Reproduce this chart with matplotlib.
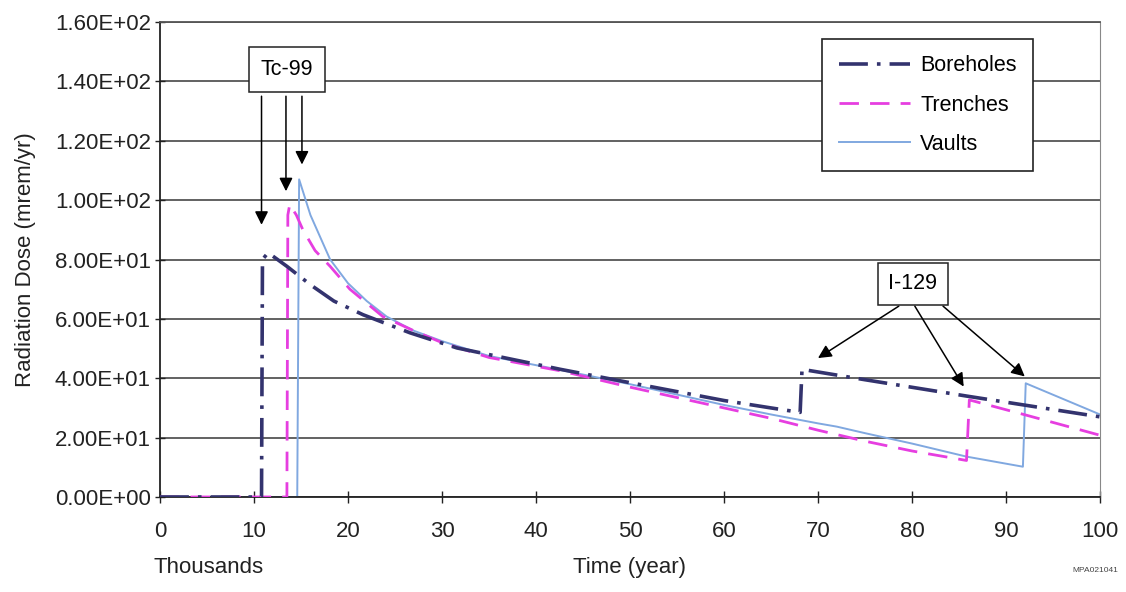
import matplotlib
matplotlib.use('Agg')
import matplotlib.pyplot as plt
from matplotlib.ticker import FuncFormatter, MultipleLocator

plt.rcParams['font.family'] = ['Liberation Sans', 'DejaVu Sans']

# time in thousands of years, dose in mrem/yr
bore_t = [0, 10.8, 10.9, 11.5, 13.5, 16, 18.5, 21.6, 26.6, 31.6, 42.6, 50, 55, 60, 65, 68.1, 68.3, 75, 85.8, 100]
bore_v = [0, 0, 80, 82.3, 77.7, 71.5, 66, 61.4, 55.3, 50.2, 43, 38.5, 35.5, 32.5, 30, 28.5, 43, 39.5, 34, 27]

trench_t = [0, 13.5, 13.6, 13.8, 14.5, 15.2, 16.5, 18.1, 20.2, 23.7, 27, 30, 35, 42.6, 50, 55, 60, 65, 70, 75, 80, 85.8, 86.1, 92, 100]
trench_v = [0, 0, 95, 98.5, 95, 90, 83, 77.7, 70, 60.8, 56, 52, 47, 42.5, 37, 33.5, 30, 26.5, 22.5, 18.8, 15.5, 12.3, 32.7, 27.7, 20.8]

vault_t = [0, 14.6, 14.8, 16, 18.1, 20, 22, 24.1, 27, 30, 35, 42.6, 50, 55, 60, 65, 70, 72, 75, 80, 85.8, 91.8, 92.1, 100]
vault_v = [0, 0, 107, 95, 80, 72, 66, 60.8, 56, 52.5, 47.5, 42.8, 38, 34.5, 31, 27.8, 24.8, 23.7, 21.5, 18, 13.6, 10.2, 38.3, 27.8]

# annotation arrow targets (t, dose)
tc99_tips = [(10.8, 91.7), (13.4, 103), (15.1, 112)]
tc99_tails = [(10.8, 135), (13.4, 135), (15.1, 135)]
i129_tips = [(70.0, 46.8), (85.5, 37.2), (92.0, 40.6)]
i129_tails = [(78.6, 64.3), (80.3, 64.3), (83.3, 64.3)]

fig = plt.figure(figsize=(11.26, 5.92), dpi=100)
ax = fig.add_axes([0.1421, 0.1605, 0.8348, 0.8023])

ax.plot(bore_t, bore_v, color='#33336e', lw=2.6, dashes=(8, 2.5, 1, 2.5), label='Boreholes', zorder=4)
ax.plot(trench_t, trench_v, color='#e63ee0', lw=2.0, dashes=(7, 4), label='Trenches', zorder=3)
ax.plot(vault_t, vault_v, color='#80a8e0', lw=1.4, label='Vaults', zorder=2)

ax.set_xlim(0, 100)
ax.set_ylim(0, 160)
ax.xaxis.set_major_locator(MultipleLocator(10))
ax.yaxis.set_major_locator(MultipleLocator(20))
ax.yaxis.set_major_formatter(FuncFormatter(lambda v, p: '%.2E' % v))
ax.grid(axis='y', color='#555555', lw=1.3)
ax.set_axisbelow(True)

for s in ['left', 'bottom']:
  ax.spines[s].set_color('#222222')
  ax.spines[s].set_linewidth(1.3)
ax.spines['right'].set_color('#888888')
ax.spines['top'].set_color('#555555')
ax.spines['top'].set_linewidth(1.3)

ax.tick_params(axis='x', direction='inout', length=9, width=1, pad=13, labelsize=16, colors='#222222')
ax.tick_params(axis='y', direction='inout', length=7, width=1, pad=3, labelsize=16, colors='#222222')

ax.set_ylabel('Radiation Dose (mrem/yr)', fontsize=16, color='#222222', labelpad=14)
fig.text(0.5595, 0.023, 'Time (year)', ha='center', va='bottom', fontsize=16, color='#222222')
fig.text(0.136, 0.023, 'Thousands', ha='left', va='bottom', fontsize=16, color='#222222')
fig.text(0.993, 0.03, 'MPA021041', ha='right', va='bottom', fontsize=6, color='#444444')

leg = ax.legend(loc='upper right', bbox_to_anchor=(0.9287, 0.964), borderaxespad=0, fontsize=15.5,
                frameon=True, fancybox=False, edgecolor='#222222', framealpha=1,
                handlelength=3.3, labelspacing=0.85, borderpad=0.75, handletextpad=0.5)
leg.get_frame().set_linewidth(1.2)

arrow = dict(arrowstyle='-|>', color='black', lw=1.1, mutation_scale=20, shrinkA=0, shrinkB=0)
box = dict(boxstyle='square,pad=0.55', fc='white', ec='#222222', lw=1.1)
for tail, tip in zip(tc99_tails, tc99_tips):
  ax.annotate('', xy=tip, xytext=tail, arrowprops=arrow, zorder=6)
ax.text(13.5, 144, 'Tc-99', ha='center', va='center', fontsize=15.5, bbox=box, zorder=7)
for tail, tip in zip(i129_tails, i129_tips):
  ax.annotate('', xy=tip, xytext=tail, arrowprops=arrow, zorder=6)
ax.text(80.1, 71.8, 'I-129', ha='center', va='center', fontsize=15.5,
        bbox=dict(boxstyle='square,pad=0.5', fc='white', ec='#222222', lw=1.1), zorder=7)

fig.savefig('out.png', dpi=100)
